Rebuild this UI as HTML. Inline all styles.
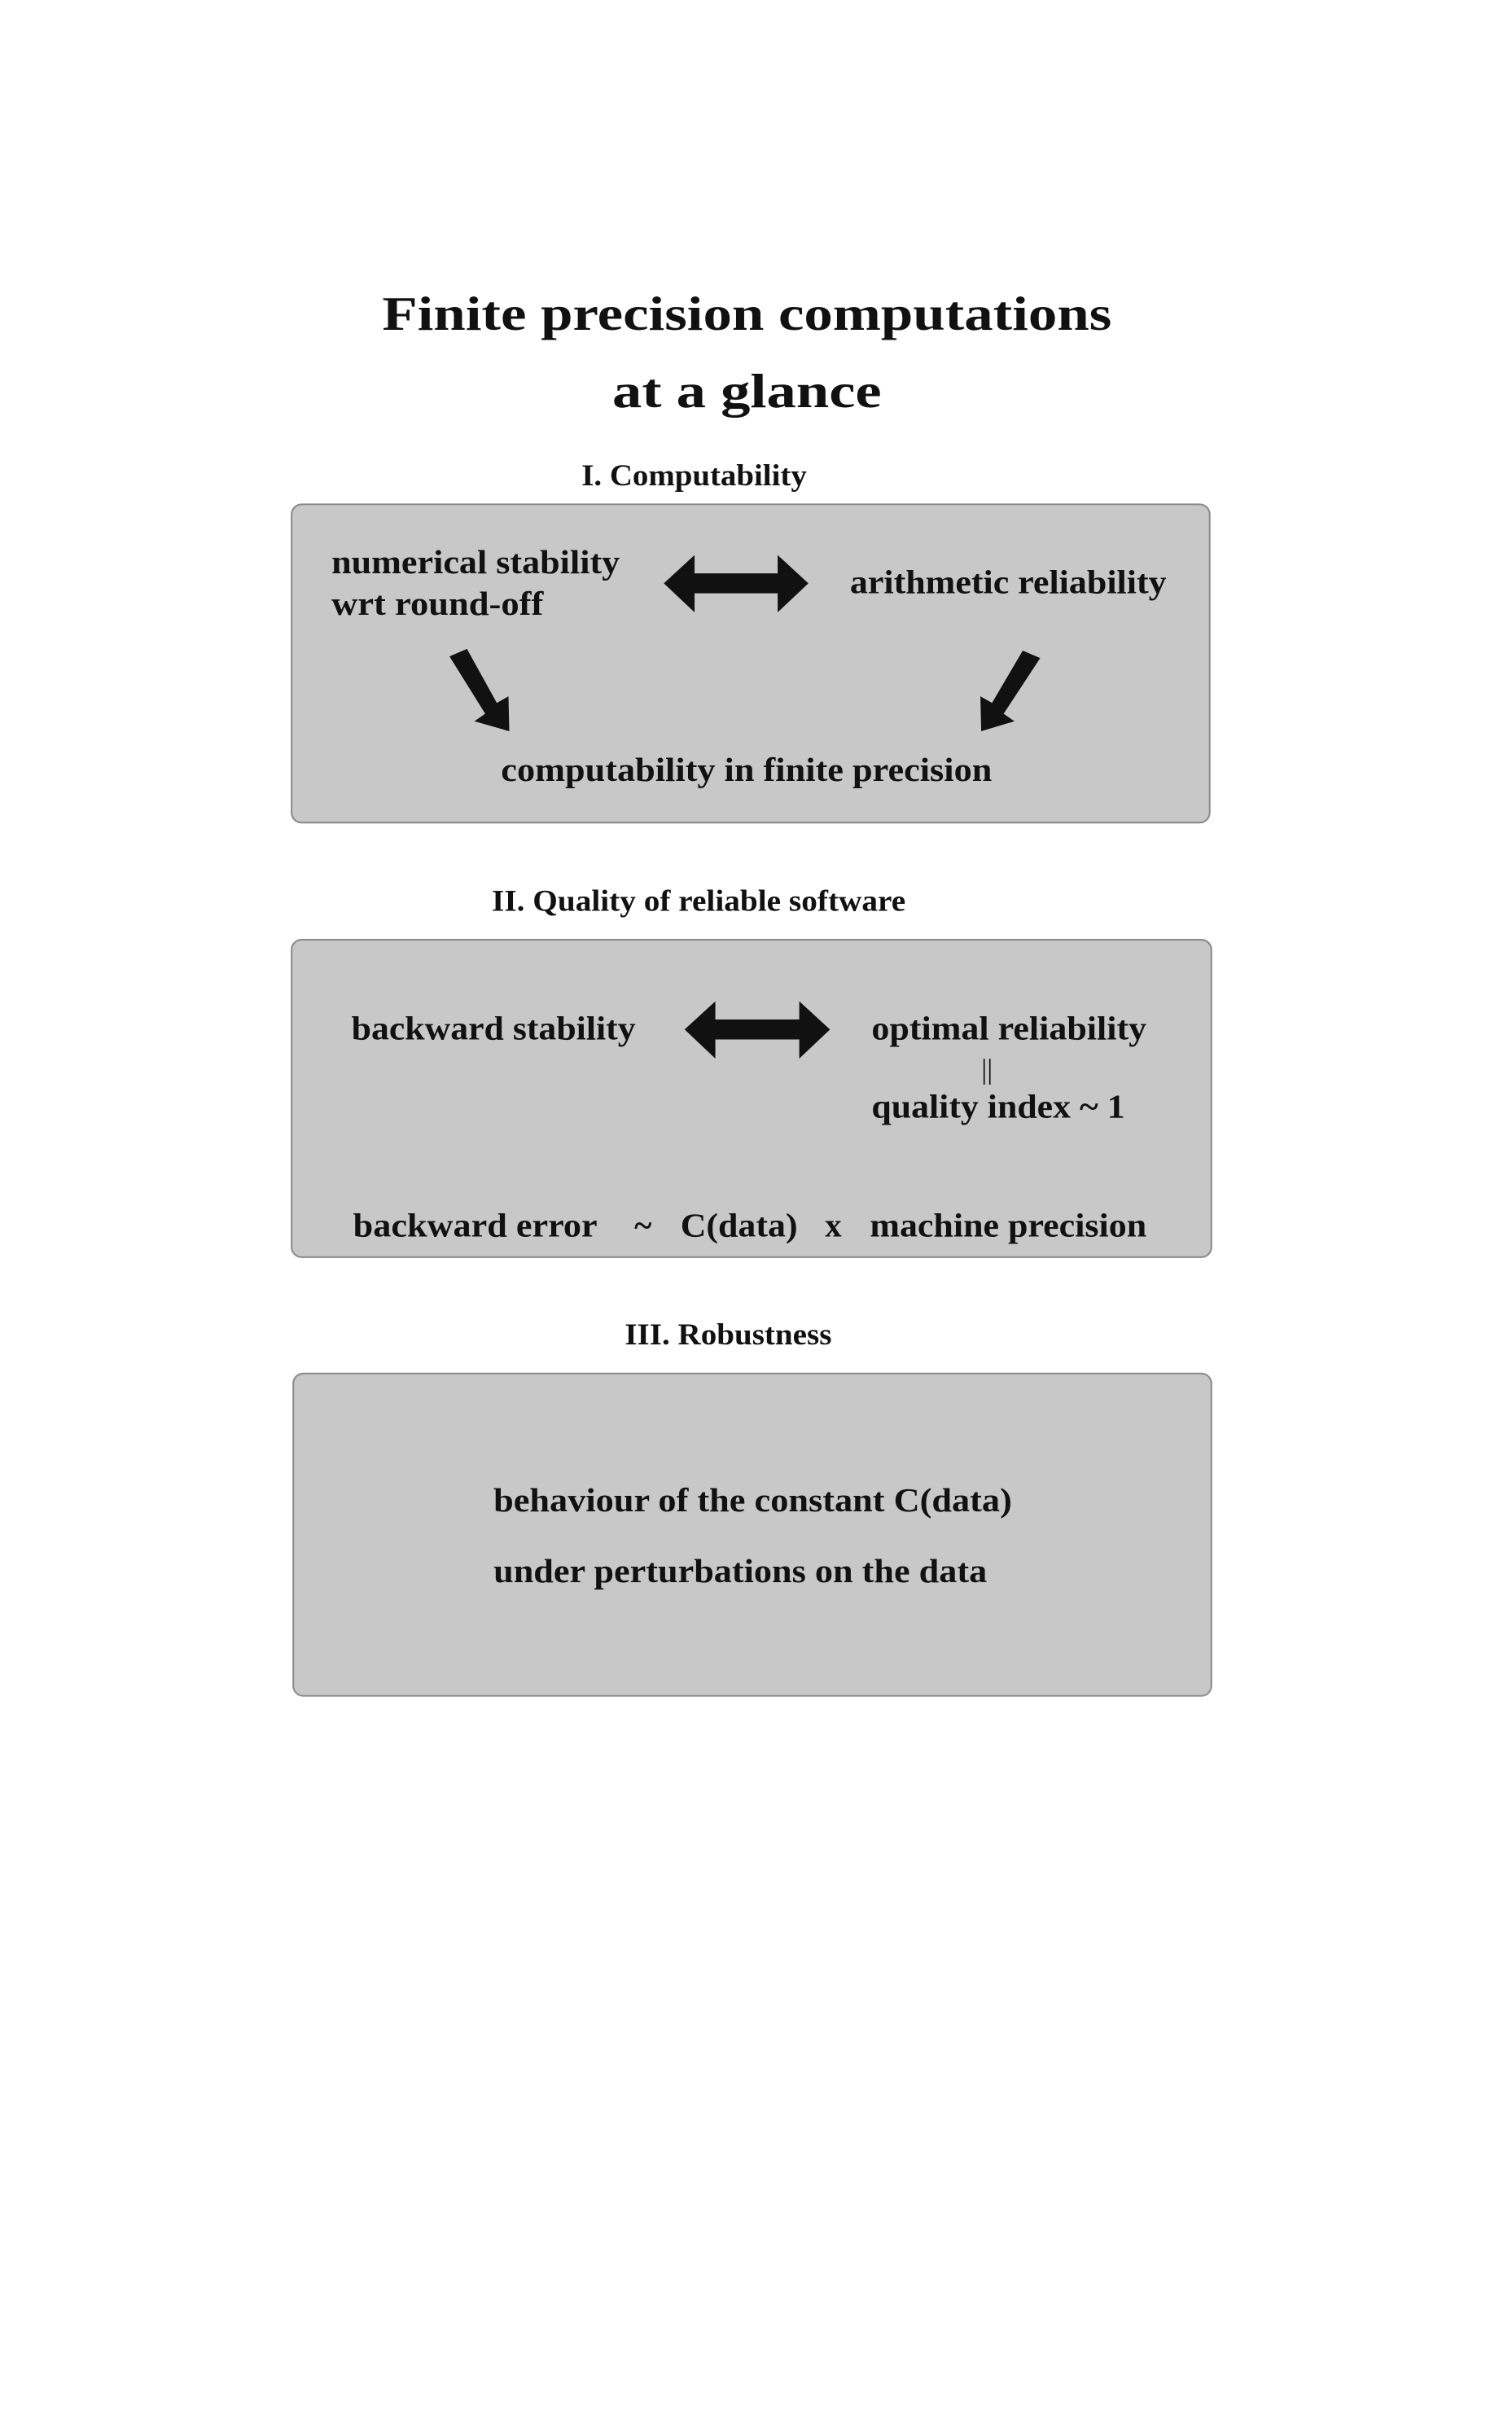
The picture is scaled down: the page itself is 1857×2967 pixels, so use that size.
<!DOCTYPE html>
<html><head><meta charset="utf-8"><style>
html,body{margin:0;padding:0;background:#fff;}
svg{display:block;}
</style></head><body>
<svg width="1857" height="2967" viewBox="0 0 1857 2967" xmlns="http://www.w3.org/2000/svg">
<rect width="1857" height="2967" fill="#fff"/>
<g transform="scale(1.0204)" font-family="Liberation Serif, serif" font-weight="bold" fill="#111">
<text x="899" y="397" font-size="58" text-anchor="middle" textLength="878" lengthAdjust="spacingAndGlyphs">Finite precision computations</text>
<text x="899" y="490" font-size="58" text-anchor="middle" textLength="324" lengthAdjust="spacingAndGlyphs">at a glance</text>

<text x="700" y="584" font-size="36" textLength="271" lengthAdjust="spacingAndGlyphs">I. Computability</text>
<rect x="351" y="607" width="1105" height="383" rx="12" fill="#c8c8c8" stroke="#8a8a8a" stroke-width="2"/>
<text x="399" y="690" font-size="40" textLength="347" lengthAdjust="spacingAndGlyphs">numerical stability</text>
<text x="399" y="740" font-size="40" textLength="255" lengthAdjust="spacingAndGlyphs">wrt round-off</text>
<polygon points="799,702 836,668 836,690 936,690 936,668 973,702 936,737 936,714 836,714 836,737" fill="#111"/>
<text x="1023" y="714" font-size="40" textLength="381" lengthAdjust="spacingAndGlyphs">arithmetic reliability</text>
<polygon points="541,790 562,781 598,846 612,838 613,880 571,868 584,859" fill="#111"/>
<polygon points="1231,783 1252,792 1208,859 1221,868 1181,880 1180,838 1194,846" fill="#111"/>
<text x="603" y="940" font-size="40" textLength="591" lengthAdjust="spacingAndGlyphs">computability in finite precision</text>

<text x="592" y="1096" font-size="36" textLength="498" lengthAdjust="spacingAndGlyphs">II. Quality of reliable software</text>
<rect x="351" y="1131" width="1107" height="382" rx="12" fill="#c8c8c8" stroke="#8a8a8a" stroke-width="2"/>
<text x="423" y="1251" font-size="40" textLength="342" lengthAdjust="spacingAndGlyphs">backward stability</text>
<polygon points="824,1239 861,1205 861,1227 962,1227 962,1205 999,1239 962,1274 962,1251 861,1251 861,1274" fill="#111"/>
<text x="1049" y="1251" font-size="40" textLength="331" lengthAdjust="spacingAndGlyphs">optimal reliability</text>
<text x="1188" y="1298" font-size="34" text-anchor="middle" font-weight="normal">||</text>
<text x="1049" y="1345" font-size="40" textLength="305" lengthAdjust="spacingAndGlyphs">quality index ~ 1</text>
<text x="425" y="1488" font-size="40" textLength="294" lengthAdjust="spacingAndGlyphs">backward error</text>
<text x="774" y="1488" font-size="40" text-anchor="middle">~</text>
<text x="819" y="1488" font-size="40" textLength="141" lengthAdjust="spacingAndGlyphs">C(data)</text>
<text x="1003" y="1488" font-size="40" text-anchor="middle">x</text>
<text x="1047" y="1488" font-size="40" textLength="333" lengthAdjust="spacingAndGlyphs">machine precision</text>

<text x="752" y="1618" font-size="36" textLength="249" lengthAdjust="spacingAndGlyphs">III. Robustness</text>
<rect x="353" y="1653" width="1105" height="388" rx="12" fill="#c8c8c8" stroke="#8a8a8a" stroke-width="2"/>
<text x="594" y="1819" font-size="40" textLength="624" lengthAdjust="spacingAndGlyphs">behaviour of the constant C(data)</text>
<text x="594" y="1904" font-size="40" textLength="594" lengthAdjust="spacingAndGlyphs">under perturbations on the data</text>
</g>
</svg>
</body></html>
